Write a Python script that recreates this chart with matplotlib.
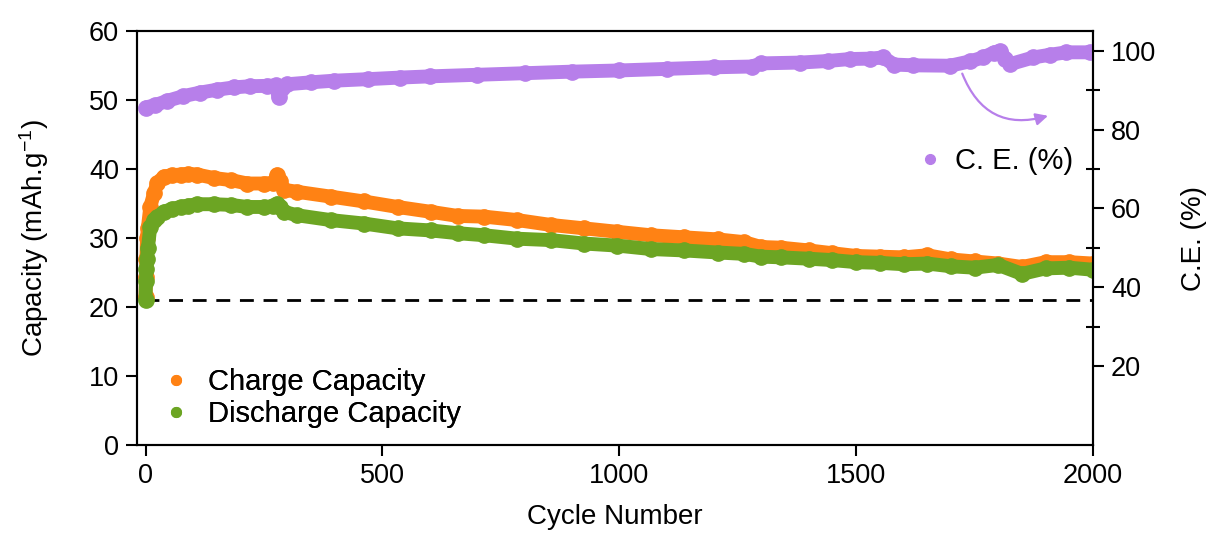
import matplotlib
matplotlib.use("Agg")
import matplotlib.pyplot as plt
from matplotlib.lines import Line2D

plt.rcParams['font.family'] = ['Liberation Sans', 'DejaVu Sans']
plt.rcParams['mathtext.fontset'] = 'custom'
plt.rcParams['mathtext.rm'] = 'Liberation Sans'
plt.rcParams['mathtext.it'] = 'Liberation Sans:italic'

# values
cycles_cap = [0, 1, 2, 3, 5, 10, 18, 25, 39, 55, 74, 90, 109, 144, 180, 215, 250,
              270, 278, 284, 292, 320, 391, 461, 532, 602, 659, 715, 785, 855, 926,
              996, 1067, 1137, 1208, 1264, 1299, 1341, 1400, 1450, 1500, 1550, 1600,
              1650, 1700, 1750, 1800, 1850, 1900, 1950, 2000]
charge_cap = [21.5, 24.3, 27.0, 30.0, 31.5, 34.5, 36.5, 38.0, 38.9, 39.1, 39.2, 39.3,
              39.2, 38.7, 38.4, 37.9, 37.9, 38.0, 39.2, 38.3, 37.0, 36.7, 36.0, 35.3,
              34.5, 33.8, 33.2, 33.1, 32.6, 31.9, 31.4, 30.9, 30.4, 30.1, 29.8, 29.4,
              28.7, 28.6, 28.2, 27.8, 27.4, 27.3, 27.2, 27.5, 26.9, 26.6, 26.3, 25.8,
              26.5, 26.5, 26.3]
discharge_cap = [21.0, 23.8, 25.5, 27.0, 28.5, 31.6, 32.6, 33.1, 33.8, 34.2, 34.5, 34.7,
                 34.9, 34.9, 34.8, 34.5, 34.5, 34.6, 35.0, 34.5, 33.8, 33.3, 32.6, 32.1,
                 31.4, 31.1, 30.7, 30.4, 29.9, 29.7, 29.2, 28.9, 28.4, 28.2, 27.9, 27.7,
                 27.3, 27.2, 27.0, 26.8, 26.5, 26.4, 26.2, 26.3, 25.9, 25.7, 26.1, 24.8,
                 25.6, 25.7, 25.4]

cycles_ce = [0, 20, 46, 80, 116, 150, 186, 220, 257, 275, 281, 288, 299, 350, 397, 470,
             538, 600, 700, 800, 900, 1000, 1100, 1200, 1280, 1300, 1382, 1440, 1487,
             1530, 1557, 1580, 1620, 1698, 1740, 1768, 1790, 1804, 1815, 1825, 1874,
             1910, 1944, 1994]
ce = [85.6, 86.2, 87.3, 88.5, 89.4, 90.1, 90.7, 91.0, 91.1, 91.2, 88.2, 90.5, 91.5, 92.0,
      92.4, 92.8, 93.2, 93.5, 93.9, 94.3, 94.7, 95.0, 95.4, 95.8, 96.0, 96.8, 97.0, 97.4,
      97.9, 98.0, 98.3, 96.5, 96.3, 96.2, 97.3, 98.3, 99.5, 100.0, 98.0, 96.6, 98.3, 99.0,
      99.6, 99.6]

ref_level = 21

orange = '#FF8214'
green = '#6CA523'
purple = '#B77FEA'

fig = plt.figure(figsize=(12.08, 5.35), dpi=100)
ax = fig.add_axes([0.1134, 0.1682, 0.7914, 0.7738])
ax2 = ax.twinx()

ax.plot(cycles_cap, charge_cap, '-o', color=orange, lw=10, ms=11, mec=orange,
        solid_capstyle='round', zorder=3)
ax.plot(cycles_cap, discharge_cap, '-o', color=green, lw=10, ms=11, mec=green,
        solid_capstyle='round', zorder=4)
ax.axhline(ref_level, xmin=0.008, xmax=1, color='black', lw=2, ls=(0, (5, 3.5)), zorder=2)
ax2.plot(cycles_ce, ce, '-o', color=purple, lw=10, ms=11, mec=purple,
         solid_capstyle='round')

ax.set_xlim(-18, 2000)
ax.set_ylim(0, 60)
ax2.set_ylim(0, 105)
ax.set_xticks([0, 500, 1000, 1500, 2000])
ax.set_yticks([0, 10, 20, 30, 40, 50, 60])
ax2.set_yticks([20, 40, 60, 80, 100])
ax2.set_yticks([30, 50, 70, 90], minor=True)

for a in (ax, ax2):
    for s in a.spines.values():
        s.set_linewidth(1.5)
ax.tick_params(axis='both', direction='out', length=8, width=1.5, labelsize=19.5, pad=5)
ax2.tick_params(axis='y', which='major', direction='out', length=8, width=1.5,
                labelsize=19.5, pad=5)
ax2.tick_params(axis='y', which='minor', direction='inout', length=10, width=1.5)

ax.set_xlabel('Cycle Number', fontsize=20, labelpad=11)
ax.set_ylabel('Capacity (mAh.g$^{-1}$)', fontsize=20, labelpad=27)
ax2.set_ylabel('C.E. (%)', fontsize=20, labelpad=18)

h_cap = [Line2D([], [], ls='none', marker='o', ms=7, color=orange),
         Line2D([], [], ls='none', marker='o', ms=7, color=green)]
leg = ax.legend(h_cap, ['Charge Capacity', 'Discharge Capacity'], loc='upper left',
                bbox_to_anchor=(-0.005, 0.25), frameon=False, fontsize=21,
                handlelength=1.2, handletextpad=0.5, labelspacing=0.15)
ax.add_artist(leg)

h_ce = [Line2D([], [], ls='none', marker='o', ms=7, color=purple)]
ax2.legend(h_ce, ['C. E. (%)'], loc='center left', bbox_to_anchor=(0.784, 0.685),
           frameon=False, fontsize=21, handlelength=1.2, handletextpad=0.25)

ax2.annotate('', xy=(1905, 83.5), xytext=(1724, 94.2),
             arrowprops=dict(arrowstyle='-|>', color=purple, lw=1.6,
                             mutation_scale=18, shrinkA=0, shrinkB=0,
                             connectionstyle='arc3,rad=0.45'))

fig.savefig('out.png', dpi=100)
